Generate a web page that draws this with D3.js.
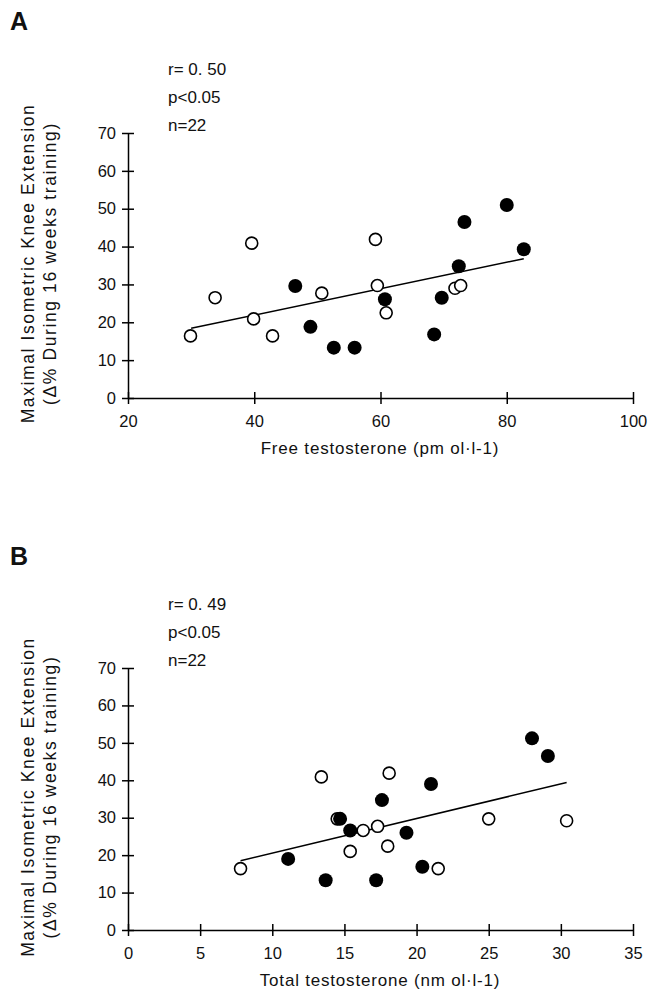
<!DOCTYPE html>
<html><head><meta charset="utf-8">
<script src="https://cdn.jsdelivr.net/npm/d3@7"></script>
<style>body{margin:0;background:#fff}text{font-family:"Liberation Sans",Arial,sans-serif;fill:#111}</style>
</head><body><svg id="c" width="671" height="1001"></svg>
<script>
const aOpenX=[29.9,33.8,39.6,39.9,42.9,50.7,59.2,59.5,60.9,71.8,72.7];
const aOpenY=[16.4,26.5,40.9,20.9,16.4,27.7,41.9,29.7,22.5,29.0,29.7];
const aFillX=[46.5,48.9,52.6,55.9,60.7,68.5,69.7,72.4,73.3,80.0,82.7];
const aFillY=[29.6,18.8,13.3,13.3,26.1,16.8,26.5,34.8,46.5,51.0,39.3];
const aLine=[[30,18.4],[82.7,36.8]];
const bOpenX=[7.8,13.4,14.5,16.3,15.4,17.3,18.1,18.0,21.5,25.0,30.4];
const bOpenY=[16.4,40.9,29.7,26.6,21.0,27.7,41.9,22.4,16.4,29.7,29.2];
const bFillX=[11.1,13.7,14.7,15.4,17.2,17.6,19.3,20.4,21.0,28.0,29.1];
const bFillY=[19.0,13.3,29.7,26.6,13.3,34.7,26.0,16.9,39.0,51.2,46.5];
const bLine=[[7.8,18.5],[30.4,39.4]];
const aXTicks=[20,40,60,80,100], bXTicks=[0,5,10,15,20,25,30,35], yTicks=[0,10,20,30,40,50,60,70];
const svg=d3.select("#c");
function panel(o){
  const g=svg.append("g");
  const x=d3.scaleLinear().domain(o.xd).range([128,633]);
  const y=d3.scaleLinear().domain([0,70]).range([o.y0,o.y1]);
  g.append("text").attr("x",10).attr("y",o.y1-103).attr("font-size",25).attr("font-weight","bold").text(o.letter);
  o.stats.forEach((s,i)=>g.append("text").attr("x",168).attr("y",o.y1-58+i*28).attr("font-size",17).text(s));
  const ax=g.append("g").attr("transform",`translate(0,${o.y0})`).call(d3.axisBottom(x).tickValues(o.xt).tickSize(0).tickPadding(17));
  ax.selectAll(".tick").append("line").attr("y1",-6).attr("y2",6).attr("stroke","#000").attr("stroke-width",1.5);
  ax.select(".domain").attr("stroke-width",1.5);
  const ay=g.append("g").attr("transform","translate(128,0)").call(d3.axisLeft(y).tickValues(yTicks).tickSize(0).tickPadding(12));
  ay.selectAll(".tick").append("line").attr("x1",-6).attr("x2",6).attr("stroke","#000").attr("stroke-width",1.5);
  ay.select(".domain").attr("stroke-width",1.5);
  g.selectAll(".tick text").attr("font-size",16.5).attr("font-family","Liberation Sans, Arial").attr("fill","#111");
  g.append("text").attr("x",380).attr("y",o.y0+56).attr("text-anchor","middle").attr("font-size",17).attr("letter-spacing","0.8").text(o.xl);
  const cy=(o.y0+o.y1)/2-2;
  g.append("text").attr("transform",`translate(34,${cy}) rotate(-90)`).attr("text-anchor","middle").attr("font-size",17.5).attr("letter-spacing","1.6").text("Maximal Isometric  Knee Extension");
  g.append("text").attr("transform",`translate(56,${cy}) rotate(-90)`).attr("text-anchor","middle").attr("font-size",17.5).attr("letter-spacing","1.6").text("(Δ% During 16 weeks training)");
  g.append("line").attr("x1",x(o.line[0][0])).attr("y1",y(o.line[0][1])).attr("x2",x(o.line[1][0])).attr("y2",y(o.line[1][1])).attr("stroke","#000").attr("stroke-width",1.5);
  g.selectAll(".o").data(o.ox).enter().append("circle").attr("cx",d=>x(d)).attr("cy",(d,i)=>y(o.oy[i])).attr("r",6).attr("fill","#fff").attr("stroke","#000").attr("stroke-width",1.6);
  g.selectAll(".f").data(o.fx).enter().append("circle").attr("cx",d=>x(d)).attr("cy",(d,i)=>y(o.fy[i])).attr("r",7).attr("fill","#000");
}
panel({letter:"A",xd:[20,100],xt:aXTicks,y0:398,y1:133,stats:["r= 0. 50","p<0.05","n=22"],xl:"Free testosterone  (pm ol·l-1)",line:aLine,ox:aOpenX,oy:aOpenY,fx:aFillX,fy:aFillY});
panel({letter:"B",xd:[0,35],xt:bXTicks,y0:930,y1:668,stats:["r= 0. 49","p<0.05","n=22"],xl:"Total testosterone   (nm ol·l-1)",line:bLine,ox:bOpenX,oy:bOpenY,fx:bFillX,fy:bFillY});
</script></body></html>
